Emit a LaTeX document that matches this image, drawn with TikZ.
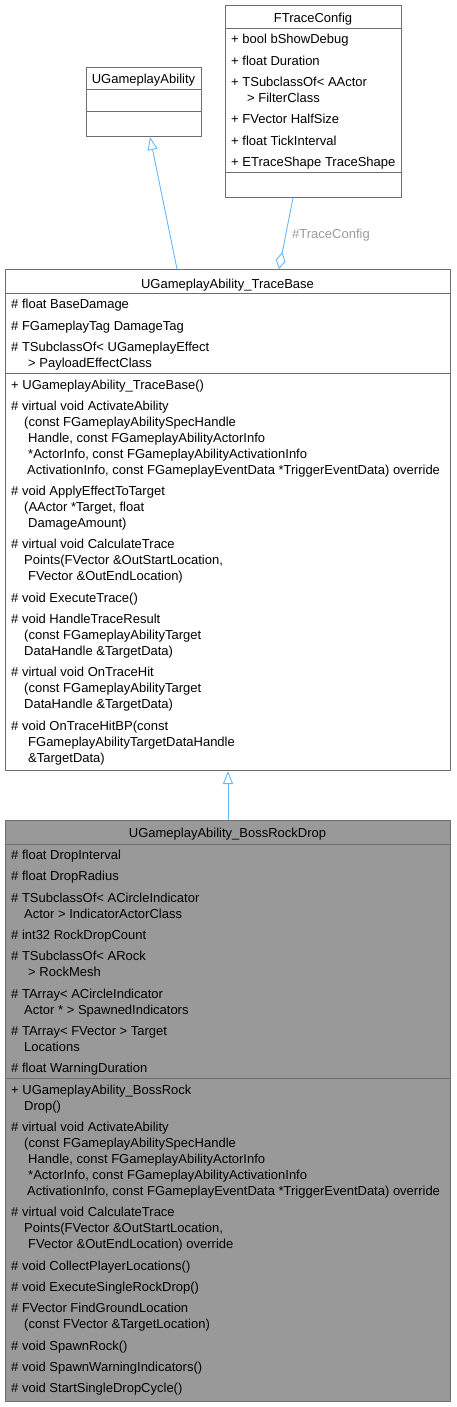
\documentclass[tikz,border=0pt]{standalone}
\usepackage{fontspec}
\setmainfont{Liberation Sans}
\usetikzlibrary{arrows.meta}
\definecolor{boxgray}{HTML}{6E6E6E}
\definecolor{mainfill}{HTML}{999999}
\definecolor{edgeblue}{HTML}{63B8FF}
\definecolor{lblgray}{HTML}{9A9A9A}
\newcommand{\umlline}[4]{\node[txt] (#1) at (#2,#3) {#4};}
\tikzset{
  box/.style={draw=boxgray, line width=1pt, fill=white, inner sep=0pt, anchor=north west},
  mainbox/.style={box, fill=mainfill},
  sep/.style={draw=boxgray, line width=1pt},
  txt/.style={anchor=base west, inner sep=0pt, font=\fontsize{13}{16}\selectfont},
  ttl/.style={anchor=base, inner sep=0pt, font=\fontsize{13}{16}\selectfont},
  inh/.style={draw=edgeblue, line width=0.9pt, -{Triangle[open, length=13pt, width=10pt]}},
  agg/.style={draw=edgeblue, line width=0.9pt, -{Diamond[open, length=17pt, width=10pt]}},
  lbl/.style={anchor=base west, inner sep=0pt, text=lblgray, font=\fontsize{13}{16}\selectfont},
}
\begin{document}
\begin{tikzpicture}[x=1pt, y=-1pt]
\useasboundingbox (0,0) rectangle (456,1407);

% ---------- FTraceConfig ----------
\node[box, minimum width=176pt, minimum height=192pt] (tc) at (225,5) {};
\draw[sep] (tc.north west) ++(0,24) -- ++(176,0);
\draw[sep] (tc.north west) ++(0,168) -- ++(176,0);
\node[ttl] (tcT) at (313,23) {FTraceConfig};
\umlline{tc1}{231}{44}{+ bool bShowDebug}
\umlline{tc2}{231}{66}{+ float Duration}
\umlline{tc3}{231}{87}{+ TSubclassOf< AActor}
\umlline{tc3b}{247}{103}{> FilterClass}
\umlline{tc4}{231}{124}{+ FVector HalfSize}
\umlline{tc5}{231}{146}{+ float TickInterval}
\umlline{tc6}{231}{167}{+ ETraceShape TraceShape}

% ---------- UGameplayAbility ----------
\node[box, minimum width=115pt, minimum height=69pt] (ga) at (86,67) {};
\draw[sep] (ga.north west) ++(0,23) -- ++(115,0);
\draw[sep] (ga.north west) ++(0,45) -- ++(115,0);
\node[ttl] (gaT) at (143.5,84) {UGameplayAbility};

% ---------- UGameplayAbility_TraceBase ----------
\node[box, minimum width=445pt, minimum height=501pt] (tb) at (5,269) {};
\draw[sep] (tb.north west) ++(0,24) -- ++(445,0);
\draw[sep] (tb.north west) ++(0,104) -- ++(445,0);
\node[ttl] (tbT) at (227.5,288) {UGameplayAbility\_TraceBase};
\umlline{tba1}{11}{308}{\# float BaseDamage}
\umlline{tba2}{11}{330}{\# FGameplayTag DamageTag}
\umlline{tba3}{11}{351}{\# TSubclassOf< UGameplayEffect}
\umlline{tba3b}{28}{367}{> PayloadEffectClass}
\umlline{tbm1}{11}{389}{+ UGameplayAbility\_TraceBase()}
\umlline{tbm2}{11}{410}{\# virtual void ActivateAbility}
\umlline{tbm2b}{24}{426}{(const FGameplayAbilitySpecHandle}
\umlline{tbm2c}{28}{442}{Handle, const FGameplayAbilityActorInfo}
\umlline{tbm2d}{28}{458}{*ActorInfo, const FGameplayAbilityActivationInfo}
\umlline{tbm2e}{27}{474}{ActivationInfo, const FGameplayEventData *TriggerEventData) override}
\umlline{tbm3}{11}{495}{\# void ApplyEffectToTarget}
\umlline{tbm3b}{24}{511}{(AActor *Target, float}
\umlline{tbm3c}{28}{527}{DamageAmount)}
\umlline{tbm4}{11}{548}{\# virtual void CalculateTrace}
\umlline{tbm4b}{24}{564}{Points(FVector \&OutStartLocation,}
\umlline{tbm4c}{28}{580}{FVector \&OutEndLocation)}
\umlline{tbm5}{11}{602}{\# void ExecuteTrace()}
\umlline{tbm6}{11}{623}{\# void HandleTraceResult}
\umlline{tbm6b}{24}{639}{(const FGameplayAbilityTarget}
\umlline{tbm6c}{24}{655}{DataHandle \&TargetData)}
\umlline{tbm7}{11}{676}{\# virtual void OnTraceHit}
\umlline{tbm7b}{24}{692}{(const FGameplayAbilityTarget}
\umlline{tbm7c}{24}{708}{DataHandle \&TargetData)}
\umlline{tbm8}{11}{730}{\# void OnTraceHitBP(const}
\umlline{tbm8b}{28}{746}{FGameplayAbilityTargetDataHandle}
\umlline{tbm8c}{28}{762}{\&TargetData)}

% ---------- UGameplayAbility_BossRockDrop ----------
\node[mainbox, minimum width=445pt, minimum height=581pt] (br) at (5,820) {};
\draw[sep] (br.north west) ++(0,24) -- ++(445,0);
\draw[sep] (br.north west) ++(0,258) -- ++(445,0);
\node[ttl] (brT) at (227.5,837) {UGameplayAbility\_BossRockDrop};
\umlline{bra1}{11}{859}{\# float DropInterval}
\umlline{bra2}{11}{880}{\# float DropRadius}
\umlline{bra3}{11}{902}{\# TSubclassOf< ACircleIndicator}
\umlline{bra3b}{24}{918}{Actor > IndicatorActorClass}
\umlline{bra4}{11}{939}{\# int32 RockDropCount}
\umlline{bra5}{11}{960}{\# TSubclassOf< ARock}
\umlline{bra5b}{28}{976}{> RockMesh}
\umlline{bra6}{11}{998}{\# TArray< ACircleIndicator}
\umlline{bra6b}{24}{1014}{Actor * > SpawnedIndicators}
\umlline{bra7}{11}{1035}{\# TArray< FVector > Target}
\umlline{bra7b}{24}{1051}{Locations}
\umlline{bra8}{11}{1072}{\# float WarningDuration}
\umlline{brm1}{11}{1094}{+ UGameplayAbility\_BossRock}
\umlline{brm1b}{24}{1110}{Drop()}
\umlline{brm2}{11}{1131}{\# virtual void ActivateAbility}
\umlline{brm2b}{24}{1147}{(const FGameplayAbilitySpecHandle}
\umlline{brm2c}{28}{1163}{Handle, const FGameplayAbilityActorInfo}
\umlline{brm2d}{28}{1179}{*ActorInfo, const FGameplayAbilityActivationInfo}
\umlline{brm2e}{27}{1195}{ActivationInfo, const FGameplayEventData *TriggerEventData) override}
\umlline{brm3}{11}{1216}{\# virtual void CalculateTrace}
\umlline{brm3b}{24}{1232}{Points(FVector \&OutStartLocation,}
\umlline{brm3c}{28}{1248}{FVector \&OutEndLocation) override}
\umlline{brm4}{11}{1270}{\# void CollectPlayerLocations()}
\umlline{brm5}{11}{1291}{\# void ExecuteSingleRockDrop()}
\umlline{brm6}{11}{1312}{\# FVector FindGroundLocation}
\umlline{brm6b}{24}{1328}{(const FVector \&TargetLocation)}
\umlline{brm7}{11}{1350}{\# void SpawnRock()}
\umlline{brm8}{11}{1371}{\# void SpawnWarningIndicators()}
\umlline{brm9}{11}{1392}{\# void StartSingleDropCycle()}

% ---------- connectors ----------
\path (tb.north west) ++(172,0) coordinate (tbInh);
\path (ga.south west) ++(64,0) coordinate (gaInh);
\draw[inh] (tbInh) -- (gaInh);

\path (tc.south west) ++(68,0) coordinate (tcAgg);
\path (tb.north west) ++(274,0) coordinate (tbAgg);
\draw[agg] (tcAgg) -- (tbAgg);
\node[lbl] (aggL) at (292,238) {\#TraceConfig};

\draw[inh] (br.north) -- (tb.south);
\end{tikzpicture}
\end{document}
